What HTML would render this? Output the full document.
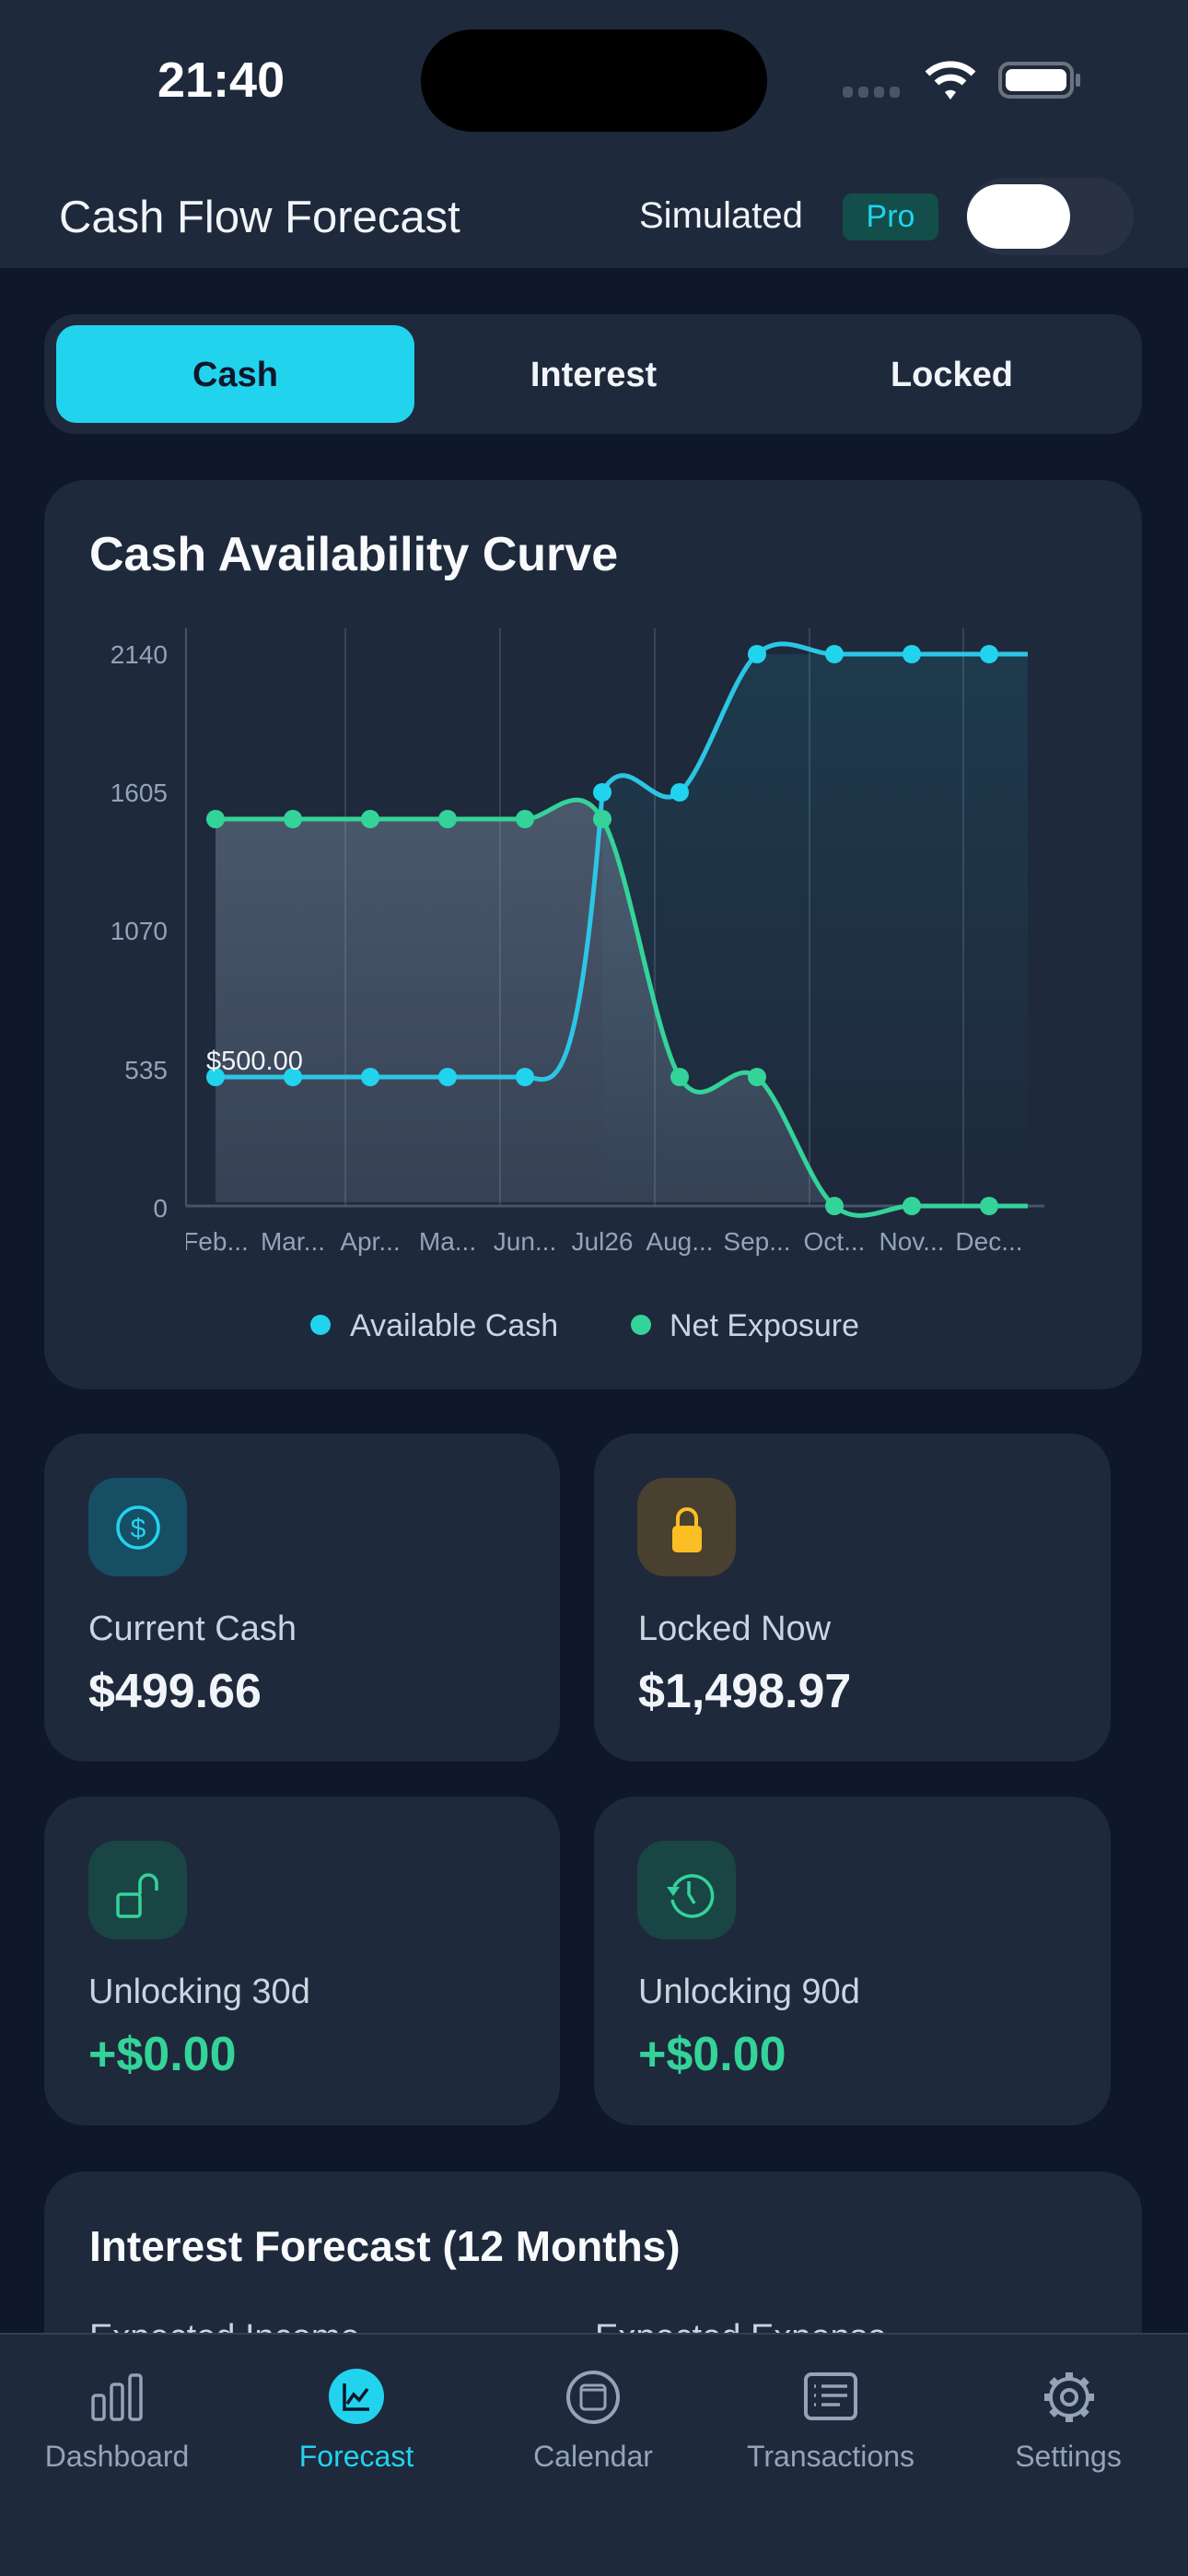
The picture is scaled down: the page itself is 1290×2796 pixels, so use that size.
<!DOCTYPE html>
<html><head><meta charset="utf-8">
<style>
*{margin:0;padding:0;box-sizing:border-box}
html,body{width:1290px;height:2796px;overflow:hidden}
body{background:#0f172a;font-family:"Liberation Sans",sans-serif;position:relative;color:#f1f5f9}
.a{position:absolute}
.card{position:absolute;background:#1e293b;border-radius:44px}
.lbl{position:absolute;font-size:38px;color:#cbd5e1;line-height:1}
.val{position:absolute;font-size:52px;font-weight:bold;line-height:1}
.ib{position:absolute;width:107px;height:107px;border-radius:30px}
.nl{position:absolute;font-size:32px;color:#94a3b8;width:240px;text-align:center;top:2648px}
</style></head><body>
<div class="a" style="left:0;top:0;width:1290px;height:291px;background:#1e293b"></div>
<div class="a" style="left:171px;top:56px;font-size:54px;font-weight:bold;color:#fff">21:40</div>
<div class="a" style="left:457px;top:32px;width:376px;height:111px;border-radius:56px;background:#000"></div>
<div class="a" style="left:915px;top:94px;width:62px;height:12px;display:flex;gap:6px"><i style="flex:1;background:#4b5563;border-radius:4px"></i><i style="flex:1;background:#4b5563;border-radius:4px"></i><i style="flex:1;background:#4b5563;border-radius:4px"></i><i style="flex:1;background:#4b5563;border-radius:4px"></i></div>
<svg class="a" style="left:1002px;top:62px" width="60" height="48" viewBox="0 0 60 48"><path d="M5 18 A36 36 0 0 1 55 18" stroke="#fff" stroke-width="7" fill="none"/><path d="M15 28 A22 22 0 0 1 45 28" stroke="#fff" stroke-width="7" fill="none"/><path d="M24 38 L30 46 L36 38 A9 9 0 0 0 24 38Z" fill="#fff"/></svg>
<div class="a" style="left:1084px;top:67px;width:82px;height:40px;border:4px solid #6b7280;border-radius:12px;padding:4px"><div style="width:100%;height:100%;background:#fff;border-radius:7px"></div></div>
<div class="a" style="left:1168px;top:80px;width:5px;height:14px;background:#6b7280;border-radius:2px"></div>

<div class="a" style="left:64px;top:208px;font-size:49px;color:#f1f5f9">Cash Flow Forecast</div>
<div class="a" style="left:694px;top:212px;font-size:40px;color:#f1f5f9">Simulated</div>
<div class="a" style="left:915px;top:210px;width:104px;height:51px;background:#134e4a;border-radius:10px;color:#22d3ee;font-size:34px;text-align:center;line-height:51px">Pro</div>
<div class="a" style="left:1049px;top:193px;width:182px;height:84px;background:#283244;border-radius:42px"></div>
<div class="a" style="left:1050px;top:200px;width:112px;height:70px;background:#fff;border-radius:35px"></div>

<div class="card" style="left:48px;top:341px;width:1192px;height:130px;border-radius:34px"></div>
<div class="a" style="left:61px;top:353px;width:389px;height:106px;background:#22d3ee;border-radius:22px"></div>
<div class="a" style="left:61px;top:386px;width:389px;text-align:center;font-size:38px;font-weight:bold;color:#0f172a">Cash</div>
<div class="a" style="left:450px;top:386px;width:389px;text-align:center;font-size:38px;font-weight:bold;color:#f1f5f9">Interest</div>
<div class="a" style="left:839px;top:386px;width:389px;text-align:center;font-size:38px;font-weight:bold;color:#f1f5f9">Locked</div>

<div class="card" style="left:48px;top:521px;width:1192px;height:987px"></div>
<div class="a" style="left:97px;top:572px;font-size:52px;font-weight:bold;color:#f8fafc">Cash Availability Curve</div>
<svg class="a" style="left:0;top:0" width="1290" height="1508" viewBox="0 0 1290 1508">
<defs>
<linearGradient id="gc" x1="0" y1="0" x2="0" y2="1"><stop offset="0" stop-color="#22d3ee" stop-opacity="0.1"/><stop offset="1" stop-color="#22d3ee" stop-opacity="0.0"/></linearGradient>
<linearGradient id="gg" x1="0" y1="0" x2="0" y2="1"><stop offset="0" stop-color="#94a3b8" stop-opacity="0.38"/><stop offset="1" stop-color="#94a3b8" stop-opacity="0.2"/></linearGradient>
</defs>
<g stroke="#94a3b8" stroke-opacity="0.22" stroke-width="2">
<line x1="375" y1="682" x2="375" y2="1309"/><line x1="543" y1="682" x2="543" y2="1309"/><line x1="711" y1="682" x2="711" y2="1309"/><line x1="879" y1="682" x2="879" y2="1309"/><line x1="1046" y1="682" x2="1046" y2="1309"/>
</g>
<line x1="202" y1="682" x2="202" y2="1309" stroke="#475569" stroke-width="2"/>
<line x1="202" y1="1309" x2="1134" y2="1309" stroke="#475569" stroke-width="3"/>
<path d="M654 860 C682 808.5 710 885 738 860 C766 835 794 735 822 710 L1116 710 L1116 1305 L654 1305Z" fill="url(#gc)"/>
<path d="M234 889 L570 889 C598 889 626 842.3 654 889 C682 935.7 710 1122.3 738 1169 C766 1215.7 794 1145.7 822 1169 C850 1192.3 878 1285.7 906 1305 L234 1305Z" fill="url(#gg)"/>
<path d="M234 1169 L570 1169 C598 1169 626 1220.5 654 860 C682 808.5 710 885 738 860 C766 835 794 735 822 710 C850 685 878 710 906 710 L1116 710" fill="none" stroke="#2cc6e4" stroke-width="5"/>
<path d="M234 889 L570 889 C598 889 626 842.3 654 889 C682 935.7 710 1122.3 738 1169 C766 1215.7 794 1145.7 822 1169 C850 1192.3 878 1285.7 906 1309 C934 1332.3 962 1309 990 1309 L1116 1309" fill="none" stroke="#34d399" stroke-width="5"/>
<g fill="#22d3ee">
<circle cx="234" cy="1169" r="10"/><circle cx="318" cy="1169" r="10"/><circle cx="402" cy="1169" r="10"/><circle cx="486" cy="1169" r="10"/><circle cx="570" cy="1169" r="10"/><circle cx="654" cy="860" r="10"/><circle cx="738" cy="860" r="10"/><circle cx="822" cy="710" r="10"/><circle cx="906" cy="710" r="10"/><circle cx="990" cy="710" r="10"/><circle cx="1074" cy="710" r="10"/>
</g>
<g fill="#34d399">
<circle cx="234" cy="889" r="10"/><circle cx="318" cy="889" r="10"/><circle cx="402" cy="889" r="10"/><circle cx="486" cy="889" r="10"/><circle cx="570" cy="889" r="10"/><circle cx="654" cy="889" r="10"/><circle cx="738" cy="1169" r="10"/><circle cx="822" cy="1169" r="10"/><circle cx="906" cy="1309" r="10"/><circle cx="990" cy="1309" r="10"/><circle cx="1074" cy="1309" r="10"/>
</g>
<g font-family="Liberation Sans, sans-serif" font-size="28" fill="#94a3b8" text-anchor="end">
<text x="182" y="720">2140</text><text x="182" y="870">1605</text><text x="182" y="1020">1070</text><text x="182" y="1171">535</text><text x="182" y="1321">0</text>
</g>
<text x="224" y="1161" font-family="Liberation Sans, sans-serif" font-size="29" fill="#f1f5f9">$500.00</text>
<clipPath id="cx"><rect x="202" y="1320" width="1000" height="50"/></clipPath>
<g font-family="Liberation Sans, sans-serif" font-size="28" fill="#94a3b8" text-anchor="middle" clip-path="url(#cx)">
<text x="234" y="1357">Feb...</text><text x="318" y="1357">Mar...</text><text x="402" y="1357">Apr...</text><text x="486" y="1357">Ma...</text><text x="570" y="1357">Jun...</text><text x="654" y="1357">Jul26</text><text x="738" y="1357">Aug...</text><text x="822" y="1357">Sep...</text><text x="906" y="1357">Oct...</text><text x="990" y="1357">Nov...</text><text x="1074" y="1357">Dec...</text>
</g>
<circle cx="348" cy="1438" r="11" fill="#22d3ee"/>
<circle cx="696" cy="1438" r="11" fill="#34d399"/>
<g font-family="Liberation Sans, sans-serif" font-size="34" fill="#cbd5e1"><text x="380" y="1450">Available Cash</text><text x="727" y="1450">Net Exposure</text></g>
</svg>

<div class="card" style="left:48px;top:1556px;width:560px;height:356px"></div>
<div class="card" style="left:645px;top:1556px;width:561px;height:356px"></div>
<div class="card" style="left:48px;top:1950px;width:560px;height:357px"></div>
<div class="card" style="left:645px;top:1950px;width:561px;height:357px"></div>
<div class="ib" style="left:96px;top:1604px;background:#164e63"></div>
<svg class="a" style="left:124px;top:1632px" width="52" height="52"><circle cx="26" cy="26" r="22" stroke="#22d3ee" stroke-width="3.5" fill="none"/><text x="26" y="37" text-anchor="middle" font-size="30" fill="#22d3ee" font-family="Liberation Sans, sans-serif">$</text></svg>
<div class="ib" style="left:692px;top:1604px;background:#4a4030"></div>
<svg class="a" style="left:720px;top:1632px" width="52" height="60"><path d="M16 24 V16 A10 10 0 0 1 36 16 V24" stroke="#fbbf24" stroke-width="4" fill="none"/><rect x="10" y="24" width="32" height="29" rx="5" fill="#fbbf24"/></svg>
<div class="ib" style="left:96px;top:1998px;background:#1a4545"></div>
<svg class="a" style="left:122px;top:2028px" width="60" height="60"><rect x="6" y="28" width="24" height="24" rx="3" stroke="#34d399" stroke-width="3.5" fill="none"/><path d="M30 28 V16 A9 9 0 0 1 48 16 V24" stroke="#34d399" stroke-width="3.5" fill="none"/></svg>
<div class="ib" style="left:692px;top:1998px;background:#1a4545"></div>
<svg class="a" style="left:718px;top:2026px" width="60" height="60"><path d="M14 22 A22 22 0 1 1 12 36" stroke="#34d399" stroke-width="3.5" fill="none"/><path d="M6 22 L20 22 L13 32Z" fill="#34d399"/><path d="M30 16 V30 L36 40" stroke="#34d399" stroke-width="3.5" fill="none"/></svg>

<div class="lbl" style="left:96px;top:1749px">Current Cash</div>
<div class="val" style="left:96px;top:1810px">$499.66</div>
<div class="lbl" style="left:693px;top:1749px">Locked Now</div>
<div class="val" style="left:693px;top:1810px">$1,498.97</div>
<div class="lbl" style="left:96px;top:2143px">Unlocking 30d</div>
<div class="val" style="left:96px;top:2204px;color:#34d399">+$0.00</div>
<div class="lbl" style="left:693px;top:2143px">Unlocking 90d</div>
<div class="val" style="left:693px;top:2204px;color:#34d399">+$0.00</div>

<div class="card" style="left:48px;top:2357px;width:1192px;height:300px"></div>
<div class="a" style="left:97px;top:2411px;font-size:46px;font-weight:bold;color:#f8fafc">Interest Forecast (12 Months)</div>
<div class="lbl" style="left:97px;top:2518px">Expected Income</div>
<div class="lbl" style="left:646px;top:2518px">Expected Expense</div>

<div class="a" style="left:0;top:2532px;width:1290px;height:264px;background:#1e293b;border-top:2px solid #334155"></div>
<svg class="a" style="left:97px;top:2574px" width="60" height="56"><g stroke="#94a3b8" stroke-width="3.5" fill="none"><rect x="4" y="26" width="12" height="26" rx="3"/><rect x="24" y="14" width="12" height="38" rx="3"/><rect x="44" y="4" width="12" height="48" rx="3"/></g></svg>
<div class="a" style="left:357px;top:2571px;width:60px;height:60px;border-radius:30px;background:#22d3ee"></div>
<svg class="a" style="left:357px;top:2571px" width="60" height="60"><path d="M17 16 V44 H44" stroke="#0f172a" stroke-width="3.5" fill="none"/><path d="M20 38 L27 28 L33 34 L42 22" stroke="#0f172a" stroke-width="3.5" fill="none"/></svg>
<svg class="a" style="left:614px;top:2571px" width="60" height="62"><circle cx="30" cy="31" r="27" stroke="#94a3b8" stroke-width="4" fill="none"/><rect x="17" y="18" width="26" height="26" rx="4" stroke="#94a3b8" stroke-width="3" fill="none"/><line x1="17" y1="23" x2="43" y2="23" stroke="#94a3b8" stroke-width="3"/></svg>
<svg class="a" style="left:872px;top:2574px" width="60" height="56"><rect x="3" y="3" width="54" height="48" rx="6" stroke="#94a3b8" stroke-width="4" fill="none"/><g stroke="#94a3b8" stroke-width="3.5"><line x1="12" y1="16" x2="14" y2="16"/><line x1="20" y1="16" x2="48" y2="16"/><line x1="12" y1="26" x2="14" y2="26"/><line x1="20" y1="26" x2="48" y2="26"/><line x1="12" y1="36" x2="14" y2="36"/><line x1="20" y1="36" x2="40" y2="36"/></g></svg>
<svg class="a" style="left:1130px;top:2571px" width="62" height="62" viewBox="0 0 62 62"><g stroke="#94a3b8" stroke-width="4" fill="none"><circle cx="31" cy="31" r="20"/><circle cx="31" cy="31" r="8"/><g stroke-width="8"><line x1="31" y1="4" x2="31" y2="10"/><line x1="31" y1="52" x2="31" y2="58"/><line x1="4" y1="31" x2="10" y2="31"/><line x1="52" y1="31" x2="58" y2="31"/><line x1="12" y1="12" x2="16" y2="16"/><line x1="46" y1="46" x2="50" y2="50"/><line x1="12" y1="50" x2="16" y2="46"/><line x1="46" y1="16" x2="50" y2="12"/></g></g></svg>
<div class="nl" style="left:7px">Dashboard</div>
<div class="nl" style="left:267px;color:#22d3ee">Forecast</div>
<div class="nl" style="left:524px">Calendar</div>
<div class="nl" style="left:782px">Transactions</div>
<div class="nl" style="left:1040px">Settings</div>
</body></html>
